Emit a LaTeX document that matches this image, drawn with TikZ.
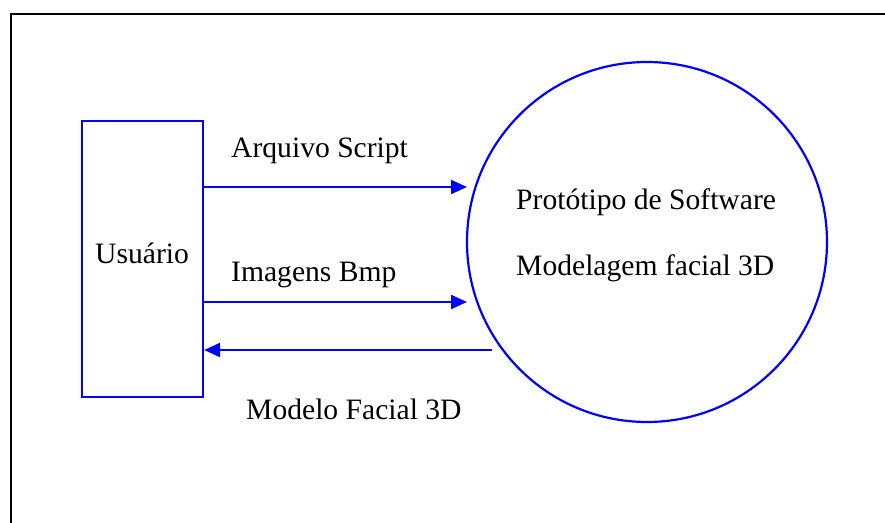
\documentclass[tikz,border=0pt]{standalone}
\usepackage{fontspec}
\setmainfont{Liberation Serif}
\usetikzlibrary{arrows.meta}
\definecolor{flowblue}{RGB}{0,0,255}
\begin{document}
\begin{tikzpicture}[x=1pt,y=-1pt,
  every node/.style={font=\fontsize{29.6}{35}\selectfont, text=black},
  entity/.style={draw=flowblue, line width=2.2pt, inner sep=0pt},
  txt/.style={anchor=base west, inner sep=0pt},
  flow/.style={draw=flowblue, line width=2.2pt, -{Triangle[length=16pt,width=14pt]}}]
  \useasboundingbox (0,0) rectangle (885,522);
  % page frame (only top and left edges fall inside the picture)
  \draw[line width=2.8pt] (886,14) -- (11,14) -- (11,523);

  % external entity
  \node[entity, minimum width=121pt, minimum height=276pt] (user) at (142.5,259) {};
  \node[txt] (userlbl) at (95,263) {Usuário};

  % process
  \node[entity, circle, minimum size=360pt] (proc) at (647,242) {};
  \node[txt] (proc1) at (516,209) {Protótipo de Software};
  \node[txt] (proc2) at (516,275) {Modelagem facial 3D};

  % flow end points
  \coordinate (t1) at (467,187);
  \coordinate (t2) at (467,302);
  \coordinate (s3) at (492,350);

  \draw[flow] (user.east |- t1) -- (t1);
  \draw[flow] (user.east |- t2) -- (t2);
  \draw[flow] (s3) -- (user.east |- s3);

  % flow labels
  \node[txt] (l1) at (231,157) {Arquivo Script};
  \node[txt] (l2) at (231,281) {Imagens Bmp};
  \node[txt] (l3) at (246,419) {Modelo Facial 3D};
\end{tikzpicture}
\end{document}
